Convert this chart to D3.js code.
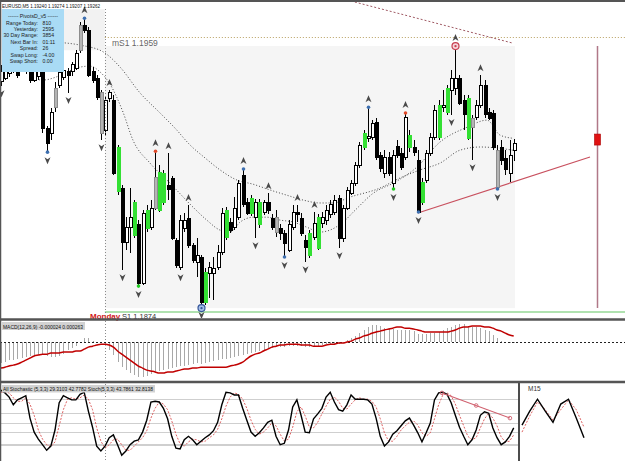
<!DOCTYPE html>
<html><head><meta charset="utf-8">
<script src="https://cdn.jsdelivr.net/npm/d3@7"></script>
<style>
html,body{margin:0;padding:0;background:#fff;}
svg{display:block;font-family:"Liberation Sans","DejaVu Sans",sans-serif;}
</style></head><body>
<svg id="c" width="625" height="461"></svg>
<script>
// ---------- DATA ----------
const symbolTitle = "EURUSD,M5  1.19240 1.19274 1.19207 1.19262";
const opens = [1.19451,1.19463,1.19476,1.19519,1.19513,1.19494,1.19513,1.19494,1.19457,1.19469,
1.19479,1.19308,1.19293,1.19373,1.19441,1.19466,1.19482,1.19482,1.19494,1.19549,
1.19627,1.19611,1.19482,1.19463,1.19417,1.19302,1.19401,1.19395,1.19250,1.19123,
1.18956,1.19002,1.18978,1.19009,1.18829,1.18999,1.19002,1.19061,1.19055,1.19169,
1.19132,1.19154,1.18962,1.18878,1.18999,1.19030,1.18947,1.18894,1.18910,1.18768,
1.18860,1.18860,1.18878,1.18925,1.18971,1.19018,1.19002,1.19033,1.19163,1.19080,
1.19046,1.19033,1.19080,1.19049,1.19080,1.19030,1.19033,1.18999,1.18984,1.18931,
1.19002,1.19049,1.19030,1.18962,1.18916,1.18971,1.18937,1.19015,1.19024,1.19040,
1.19049,1.19092,1.18968,1.19061,1.19107,1.19138,1.19194,1.19250,1.19277,1.19280,
1.19327,1.19225,1.19169,1.19219,1.19138,1.19253,1.19231,1.19219,1.19287,1.19250,
1.19209,1.19080,1.19148,1.19231,1.19280,1.19280,1.19373,1.19358,1.19426,1.19432,
1.19463,1.19395,1.19401,1.19311,1.19342,1.19379,1.19441,1.19358,1.19355,1.19240,
1.19247,1.19216,1.19169,1.19240];
const highs = [1.19504,1.19513,1.19519,1.19534,1.19525,1.19534,1.19525,1.19519,1.19504,1.19507,
1.19488,1.19315,1.19370,1.19451,1.19488,1.19500,1.19494,1.19513,1.19549,1.19636,
1.19651,1.19621,1.19497,1.19472,1.19426,1.19407,1.19426,1.19410,1.19256,1.19132,
1.19033,1.19123,1.19086,1.19024,1.19055,1.19071,1.19086,1.19240,1.19194,1.19179,
1.19231,1.19160,1.18968,1.19040,1.19046,1.19071,1.18953,1.18968,1.18916,1.18875,
1.18894,1.18910,1.18947,1.19061,1.19064,1.19030,1.19095,1.19148,1.19185,1.19092,
1.19101,1.19089,1.19089,1.19086,1.19107,1.19043,1.19055,1.19012,1.18993,1.19024,
1.19071,1.19071,1.19046,1.18978,1.18993,1.19049,1.19043,1.19049,1.19071,1.19086,
1.19101,1.19101,1.19071,1.19126,1.19148,1.19203,1.19265,1.19302,1.19376,1.19333,
1.19339,1.19234,1.19240,1.19234,1.19240,1.19271,1.19247,1.19358,1.19302,1.19271,
1.19240,1.19154,1.19240,1.19293,1.19379,1.19395,1.19426,1.19441,1.19488,1.19565,
1.19472,1.19410,1.19410,1.19349,1.19395,1.19472,1.19457,1.19370,1.19364,1.19256,
1.19271,1.19240,1.19271,1.19274];
const lows = [1.19438,1.19457,1.19466,1.19479,1.19463,1.19488,1.19476,1.19448,1.19451,1.19457,
1.19293,1.19231,1.19271,1.19358,1.19432,1.19457,1.19417,1.19469,1.19488,1.19540,
1.19602,1.19466,1.19448,1.19395,1.19271,1.19287,1.19389,1.19163,1.19101,1.18869,
1.18931,1.18922,1.18968,1.18817,1.18823,1.18987,1.18993,1.19055,1.19049,1.19071,
1.19086,1.18962,1.18875,1.18869,1.18987,1.18937,1.18891,1.18848,1.18752,1.18761,
1.18783,1.18777,1.18869,1.18916,1.18962,1.18984,1.18993,1.19024,1.19064,1.19040,
1.19036,1.18968,1.18999,1.19040,1.19043,1.18993,1.18971,1.18962,1.18907,1.18925,
1.18993,1.19018,1.18975,1.18894,1.18907,1.18962,1.18931,1.18999,1.19009,1.19030,
1.19040,1.18937,1.18956,1.19055,1.19101,1.19129,1.19185,1.19240,1.19265,1.19271,
1.19209,1.19172,1.19154,1.19160,1.19117,1.19216,1.19179,1.19209,1.19234,1.19222,
1.19046,1.19071,1.19138,1.19222,1.19271,1.19271,1.19358,1.19349,1.19349,1.19410,
1.19379,1.19302,1.19271,1.19209,1.19333,1.19370,1.19339,1.19333,1.19240,1.19117,
1.19194,1.19163,1.19141,1.19207];
const closes = [1.19482,1.19494,1.19500,1.19488,1.19472,1.19525,1.19482,1.19457,1.19488,1.19494,
1.19308,1.19262,1.19358,1.19432,1.19479,1.19488,1.19472,1.19504,1.19540,1.19627,
1.19611,1.19472,1.19457,1.19404,1.19293,1.19395,1.19420,1.19169,1.19111,1.18956,
1.19002,1.19033,1.19077,1.18829,1.19046,1.19055,1.19061,1.19157,1.19172,1.19080,
1.19120,1.18968,1.18885,1.19024,1.19024,1.18947,1.18900,1.18916,1.18768,1.18863,
1.18878,1.18875,1.18925,1.19046,1.19055,1.18993,1.19061,1.19138,1.19071,1.19046,
1.19092,1.19080,1.19009,1.19077,1.19055,1.19002,1.18987,1.18984,1.18953,1.19009,
1.19049,1.19040,1.18984,1.18940,1.18984,1.19015,1.19033,1.19033,1.19055,1.19071,
1.19086,1.18968,1.19061,1.19117,1.19138,1.19194,1.19256,1.19293,1.19284,1.19324,
1.19219,1.19185,1.19219,1.19169,1.19225,1.19225,1.19188,1.19342,1.19247,1.19234,
1.19049,1.19141,1.19231,1.19280,1.19364,1.19379,1.19379,1.19432,1.19463,1.19463,
1.19386,1.19349,1.19277,1.19339,1.19379,1.19441,1.19349,1.19339,1.19247,1.19126,
1.19209,1.19179,1.19225,1.19262];
// candle highlight: '.' normal, 'G' green, 'S' gray
const highlight = ("..........'...S.....S'....S...G.'..G..G.SGG'.........G'....G.....'G.G...S...'....G.G...'.......G..'........G.'.G...G.G..'..GS.....S'....").replace(/'/g,"").split("");

const fracUp = [20,26,37,40,45,58,64,71,75,88,97,109,115];
const fracUpMark = ["blue","","red","","","blue","","","","blue","red","ring",""];
const fracDn = [0,11,16,24,29,33,43,48,61,68,73,81,94,100,108,113,119];
const fracDnMark = ["","blue","","","","green","","target","","blue","","","green","blue","","","blue"];

// moving averages: [candle index, price]
const maFast = [[7,1.19463],[10.1,1.19457],[13.2,1.19466],[15.9,1.19482],[19,1.19497],[21.4,1.19500],[23.8,1.19482],[26.2,1.19444],[29.3,1.19358],[31.7,1.19271],[35.8,1.19200],[40.6,1.19138],[46.1,1.19064],[49.4,1.19024],[52.6,1.18993],[55,1.18987],[57.4,1.19018],[60.5,1.19033],[63.8,1.19033],[67,1.19024],[70.1,1.19018],[73.4,1.19002],[76.5,1.18987],[78.9,1.18993],[82.1,1.19018],[85,1.19055],[89.3,1.19107],[94.5,1.19141],[99.8,1.19188],[105.3,1.19265],[111.8,1.19311],[116.6,1.19333],[119.7,1.19287],[122.8,1.19277]];
const maSlow = [[13.2,1.19574],[19,1.19565],[24.7,1.19543],[28.6,1.19497],[33.4,1.19417],[38.2,1.19355],[41.8,1.19308],[45.4,1.19256],[49,1.19216],[52.6,1.19179],[56.6,1.19148],[60.5,1.19135],[64.6,1.19117],[68.6,1.19101],[72.5,1.19086],[76.5,1.19077],[79.7,1.19077],[83.7,1.19095],[90.9,1.19123],[95.7,1.19154],[100.5,1.19179],[105.3,1.19200],[110.1,1.19240],[114.9,1.19250],[119,1.19247],[122.8,1.19240]];
const maLong = [[84.9,1.19698],[122.8,1.19571]];

const mondayIdx = 24.95;
const levelMS1 = 1.1959, levelS1 = 1.1874;
const dayBox = {i0:24.95, i1:123.3, hi:1.19562, lo:1.18752};
const prevBox = {i0:-1, i1:24.95, hi:1.19676, lo:1.19549};
const trendLine = [[100,1.19046],[141.3,1.19219]];
const futureBar = {i:143, hi:1.19562, lo:1.18752, boxHi:1.19290, boxLo:1.19256};

const infoLabels = ["Range  Today:","Yesterday:","30 Day Range:","Next Bar In:","Spread:","Swap  Long:","Swap  Short:"];
const infoValues = ["810","2595","3854","01:11","26","-4.00","0.00"];

const macdHist = [-0.00092,-0.00088,-0.00079,-0.00079,-0.00074,-0.00070,-0.00066,-0.00061,-0.00057,-0.00057,
-0.00057,-0.00061,-0.00066,-0.00066,-0.00061,-0.00053,-0.00035,-0.00026,-0.00018,-0.00004,
0.00018,0.00018,0.00004,-0.00004,-0.00004,-0.00018,-0.00035,-0.00057,-0.00088,-0.00110,
-0.00123,-0.00136,-0.00145,-0.00153,-0.00153,-0.00149,-0.00140,-0.00131,-0.00127,-0.00123,
-0.00118,-0.00114,-0.00110,-0.00105,-0.00105,-0.00101,-0.00096,-0.00092,-0.00096,-0.00092,
-0.00088,-0.00083,-0.00079,-0.00074,-0.00074,-0.00070,-0.00066,-0.00061,-0.00057,-0.00053,
-0.00048,-0.00044,-0.00039,-0.00035,-0.00031,-0.00026,-0.00022,-0.00022,-0.00022,-0.00018,
-0.00018,-0.00018,-0.00018,-0.00022,-0.00022,-0.00022,-0.00018,-0.00013,-0.00009,-0.00009,
-0.00009,-0.00009,-0.00004,0.00009,0.00018,0.00026,0.00039,0.00053,0.00066,0.00074,
0.00074,0.00070,0.00061,0.00061,0.00057,0.00053,0.00053,0.00053,0.00053,0.00048,
0.00035,0.00035,0.00035,0.00039,0.00039,0.00044,0.00053,0.00061,0.00066,0.00074,
0.00079,0.00079,0.00070,0.00066,0.00066,0.00061,0.00053,0.00048,0.00031,0.00018,
0.00004,0.00000,-0.00002,-0.000024];
const macdSignal = [-0.00114,-0.00110,-0.00105,-0.00101,-0.00096,-0.00088,-0.00079,-0.00070,-0.00061,-0.00057,
-0.00053,-0.00053,-0.00048,-0.00048,-0.00048,-0.00044,-0.00044,-0.00044,-0.00039,-0.00039,
-0.00031,-0.00022,-0.00018,-0.00013,-0.00009,-0.00009,-0.00013,-0.00022,-0.00039,-0.00053,
-0.00066,-0.00079,-0.00092,-0.00105,-0.00114,-0.00123,-0.00127,-0.00131,-0.00136,-0.00136,
-0.00131,-0.00131,-0.00127,-0.00123,-0.00118,-0.00118,-0.00114,-0.00114,-0.00110,-0.00110,
-0.00110,-0.00110,-0.00110,-0.00110,-0.00110,-0.00105,-0.00101,-0.00096,-0.00088,-0.00074,
-0.00061,-0.00053,-0.00048,-0.00039,-0.00031,-0.00022,-0.00018,-0.00013,-0.00013,-0.00009,
-0.00009,-0.00009,-0.00013,-0.00013,-0.00013,-0.00018,-0.00018,-0.00018,-0.00013,-0.00009,
-0.00009,-0.00004,-0.00004,0.00000,0.00004,0.00013,0.00018,0.00026,0.00031,0.00039,
0.00044,0.00048,0.00053,0.00057,0.00061,0.00066,0.00066,0.00061,0.00061,0.00057,
0.00053,0.00048,0.00044,0.00044,0.00044,0.00044,0.00044,0.00044,0.00048,0.00053,
0.00061,0.00066,0.00066,0.00070,0.00070,0.00070,0.00066,0.00066,0.00061,0.00053,
0.00048,0.00039,0.00031,0.000263];
const macdLabel = "MACD(12,26,9) -0.000024 0.000263";

const stochMain = [97,93,87,76,83,86,89,57,37,27,19,11,17,40,79,89,86,83,83,91,
94,67,44,17,10,17,29,33,19,4,10,19,24,26,37,54,80,81,80,71,
56,31,14,13,26,31,26,19,24,29,33,39,51,76,94,93,90,90,71,54,
37,31,36,43,51,54,31,19,21,40,73,83,61,37,36,56,63,71,87,94,
80,69,67,76,90,84,84,84,83,77,57,31,17,23,34,39,46,53,57,47,
36,23,36,50,83,93,94,91,79,61,44,31,19,26,40,61,66,64,43,29,
19,23,31,43];
const stochSignal = [94,94,93,86,81,81,86,77,61,40,27,19,16,23,46,69,84,86,84,86,
90,84,69,43,24,14,19,26,27,19,11,11,17,23,29,39,57,71,80,77,
69,53,34,20,17,23,27,26,23,24,29,33,41,56,74,87,93,91,84,71,
54,41,34,37,43,50,46,34,24,27,44,66,73,60,44,43,51,63,74,84,
87,81,71,70,77,83,86,84,84,81,73,56,36,24,24,31,40,46,51,53,
47,36,31,36,56,76,90,93,89,77,61,46,31,26,29,43,56,64,57,46,
30,23,24,33];
const stochLevels = [85,65,50,37,20,18];
const stochTrend = [[105.8,93],[114,75],[122.1,57]];
const stochLabel = "All Stochastic (5,3,3) 29.3103 42.7782  Stoch(5,3,3) 43.7861 32.8138";
const m15Main = [47,67,84,67,51,77,84,57,29];
const m15Signal = [37,60,80,69,54,69,83,69,44];

// ---------- SCALES ----------
const svg = d3.select("#c");
const x = d3.scaleLinear().domain([0,149.69]).range([0.8,625]);
const y = d3.scaleLinear().domain([levelS1, levelMS1]).range([312,37]);
const my = d3.scaleLinear().domain([-0.00175,0.00088]).range([382,322]);
const sy = d3.scaleLinear().domain([0,100]).range([458,388]);
const mx = d3.scaleLinear().domain([0,8]).range([522,584]);
const px = i => Math.round(x(i)) + 0.5;

const defs = svg.append("defs");
defs.append("clipPath").attr("id","cMain").append("rect").attr("x",0).attr("y",2).attr("width",625).attr("height",316);
defs.append("clipPath").attr("id","cMacd").append("rect").attr("x",0).attr("y",321).attr("width",625).attr("height",60);
defs.append("clipPath").attr("id","cSto").append("rect").attr("x",0).attr("y",383).attr("width",518).attr("height",78);

svg.append("rect").attr("width",625).attr("height",461).attr("fill","#fff");

// ---------- MAIN PANEL ----------
const gm = svg.append("g").attr("clip-path","url(#cMain)");
gm.append("rect").attr("x",x(prevBox.i0)).attr("y",y(prevBox.hi)).attr("width",x(prevBox.i1)-x(prevBox.i0)).attr("height",y(prevBox.lo)-y(prevBox.hi)).attr("fill","#f2f2f2");
gm.append("rect").attr("x",x(dayBox.i0)).attr("y",y(dayBox.hi)).attr("width",x(dayBox.i1)-x(dayBox.i0)).attr("height",y(dayBox.lo)-y(dayBox.hi)).attr("fill","#f5f5f5");

gm.append("line").attr("x1",x(mondayIdx)).attr("x2",625).attr("y1",Math.round(y(levelMS1))+0.5).attr("y2",Math.round(y(levelMS1))+0.5)
  .attr("stroke","#b8a060").attr("stroke-dasharray","1,2");
gm.append("line").attr("x1",x(mondayIdx)).attr("x2",625).attr("y1",Math.round(y(levelS1))).attr("y2",Math.round(y(levelS1)))
  .attr("stroke","#96d896").attr("stroke-width",1.5);

const lineP = d3.line().x(d=>x(d[0])).y(d=>y(d[1])).curve(d3.curveMonotoneX);
gm.append("path").attr("d",lineP(maSlow)).attr("fill","none").attr("stroke","#333").attr("stroke-width",0.9).attr("stroke-dasharray","1,2");
gm.append("path").attr("d",lineP(maFast)).attr("fill","none").attr("stroke","#333").attr("stroke-width",0.9).attr("stroke-dasharray","1,2");
gm.append("path").attr("d",lineP(maLong)).attr("fill","none").attr("stroke","#a05a64").attr("stroke-width",1).attr("stroke-dasharray","2,2");

gm.append("path").attr("d",d3.line().x(d=>x(d[0])).y(d=>y(d[1]))(trendLine)).attr("stroke","#c8505e").attr("stroke-width",1.2).attr("fill","none");
gm.append("line").attr("x1",px(futureBar.i)).attr("x2",px(futureBar.i)).attr("y1",y(futureBar.hi)).attr("y2",y(futureBar.lo)).attr("stroke","#b07888").attr("stroke-width",1.5);
gm.append("rect").attr("x",px(futureBar.i)-3).attr("y",y(futureBar.boxHi)).attr("width",6).attr("height",y(futureBar.boxLo)-y(futureBar.boxHi)).attr("fill","#e01212").attr("stroke","#a00").attr("stroke-width",0.6);

// candles
const idx = d3.range(opens.length);
const cg = gm.append("g").attr("shape-rendering","crispEdges");
cg.selectAll("line.w").data(idx).join("line")
  .attr("x1",i=>px(i)).attr("x2",i=>px(i)).attr("y1",i=>y(highs[i])).attr("y2",i=>y(lows[i]))
  .attr("stroke","#000").attr("stroke-width",1);
cg.selectAll("rect.b").data(idx).join("rect")
  .attr("x",i=>px(i)-1.5).attr("width",3)
  .attr("y",i=>y(Math.max(opens[i],closes[i])))
  .attr("height",i=>Math.max(1,y(Math.min(opens[i],closes[i]))-y(Math.max(opens[i],closes[i]))))
  .attr("fill",i=>highlight[i]==="G"?"#33e033":highlight[i]==="S"?"#b4b4b4":(closes[i]>=opens[i]?"#fff":"#000"))
  .attr("stroke",i=>highlight[i]==="G"?"#33e033":highlight[i]==="S"?"#8c8c8c":"#000")
  .attr("stroke-width",1);

// fractals
const dotCol = {blue:"#3d6fb0",red:"#e04a2a",green:"#22cc22"};
const fg = gm.append("g");
fracUp.forEach((i,k)=>{
  const cx = px(i), hy = y(highs[i]);
  const cy = hy - 7;
  fg.append("path").attr("d",`M${cx-3},${cy+3}L${cx},${cy-4}L${cx+3},${cy+3}L${cx},${cy+1}Z`).attr("fill","#4a4a4a");
  const m = fracUpMark[k];
  if (m==="ring"){
    fg.append("circle").attr("cx",cx).attr("cy",hy+1).attr("r",3.5).attr("fill","#f6d6dc").attr("stroke","#c84050").attr("stroke-width",1.2);
    fg.append("circle").attr("cx",cx).attr("cy",hy+1).attr("r",1.2).attr("fill","#c84050");
  } else if (m) fg.append("circle").attr("cx",cx).attr("cy",hy+1).attr("r",1.8).attr("fill",dotCol[m]);
});
fracDn.forEach((i,k)=>{
  const cx = px(i), ly = y(lows[i]);
  const cy = ly + 7;
  fg.append("path").attr("d",`M${cx-3},${cy-3}L${cx},${cy+4}L${cx+3},${cy-3}L${cx},${cy-1}Z`).attr("fill","#4a4a4a");
  const m = fracDnMark[k];
  if (m==="target"){
    fg.append("circle").attr("cx",cx).attr("cy",ly).attr("r",3.5).attr("fill","#a8c0e8").attr("stroke","#34569a").attr("stroke-width",1.2);
    fg.append("circle").attr("cx",cx).attr("cy",ly).attr("r",1.2).attr("fill","#34569a");
  } else if (m) fg.append("circle").attr("cx",cx).attr("cy",ly-1).attr("r",1.8).attr("fill",dotCol[m]);
});

// labels in main panel
svg.append("text").attr("x",112).attr("y",Math.round(y(levelMS1))+9).attr("font-size",8.5).attr("fill","#666").text("mS1  1.1959");
svg.append("text").attr("x",90).attr("y",Math.round(y(levelS1))+7).attr("font-size",8).attr("font-weight","bold").attr("fill","#d01818").text("Monday");
svg.append("text").attr("x",122).attr("y",Math.round(y(levelS1))+7).attr("font-size",7.5).attr("fill","#333").text("S1  1.1874");

// monday separator (all panels)
svg.append("line").attr("x1",Math.round(x(mondayIdx))+0.5).attr("x2",Math.round(x(mondayIdx))+0.5).attr("y1",9).attr("y2",461)
  .attr("stroke","#8a8a8a").attr("stroke-dasharray","1,2");

// info box
svg.append("rect").attr("x",2).attr("y",9).attr("width",62).attr("height",63).attr("fill","#a9dbf5");
svg.append("text").attr("x",33).attr("y",18).attr("text-anchor","middle").attr("font-size",5.2).attr("fill","#222").text("------  PivotsD_v5  ------");
infoLabels.forEach((t,k)=>{
  svg.append("text").attr("x",38).attr("y",24.5+k*6.4).attr("text-anchor","end").attr("font-size",5.2).attr("fill","#222").text(t);
  svg.append("text").attr("x",42.5).attr("y",24.5+k*6.4).attr("font-size",5.2).attr("fill","#222").text(infoValues[k]);
});
svg.append("text").attr("x",2).attr("y",7.5).attr("font-size",5.2).attr("fill","#111").attr("textLength",98).attr("lengthAdjust","spacingAndGlyphs").text(symbolTitle);

// ---------- MACD PANEL ----------
const ga = svg.append("g").attr("clip-path","url(#cMacd)");
ga.append("g").attr("shape-rendering","crispEdges").selectAll("line").data(idx).join("line")
  .attr("x1",i=>px(i)).attr("x2",i=>px(i)).attr("y1",my(0)).attr("y2",i=>my(macdHist[i]))
  .attr("stroke","#a8a8a8").attr("stroke-width",1);
ga.append("line").attr("x1",0).attr("x2",625).attr("y1",Math.round(my(0))+0.5).attr("y2",Math.round(my(0))+0.5)
  .attr("stroke","#222").attr("stroke-dasharray","2,2");
ga.append("path").attr("d",d3.line().x(i=>x(i)).y(i=>my(macdSignal[i])).curve(d3.curveMonotoneX)(idx))
  .attr("fill","none").attr("stroke","#c00000").attr("stroke-width",1.5);
svg.append("rect").attr("x",2).attr("y",322).attr("width",83).attr("height",8).attr("fill","#d2d2d2");
svg.append("text").attr("x",3).attr("y",328.5).attr("font-size",5.2).attr("fill","#111").attr("textLength",80).attr("lengthAdjust","spacingAndGlyphs").text(macdLabel);

// ---------- STOCHASTIC PANEL ----------
const gs = svg.append("g").attr("clip-path","url(#cSto)");
stochLevels.forEach(v=>{
  gs.append("line").attr("x1",0).attr("x2",518).attr("y1",Math.round(sy(v))+0.5).attr("y2",Math.round(sy(v))+0.5).attr("stroke","#cfcfcf");
});
gs.append("path").attr("d",d3.line().x(i=>x(i)).y(i=>sy(stochSignal[i]))(idx))
  .attr("fill","none").attr("stroke","#d85050").attr("stroke-width",0.9).attr("stroke-dasharray","2,1.5");
gs.append("path").attr("d",d3.line().x(i=>x(i)).y(i=>sy(stochMain[i]))(idx))
  .attr("fill","none").attr("stroke","#000").attr("stroke-width",1.4);
gs.append("path").attr("d",d3.line().x(d=>x(d[0])).y(d=>sy(d[1]))([stochTrend[0],stochTrend[2]])).attr("stroke","#d0606e").attr("stroke-width",1.1);
stochTrend.forEach(d=>gs.append("circle").attr("cx",x(d[0])).attr("cy",sy(d[1])).attr("r",1.8).attr("fill","none").attr("stroke","#d0606e").attr("stroke-width",0.9));
svg.append("rect").attr("x",2).attr("y",385).attr("width",153).attr("height",7.5).attr("fill","#d2d2d2");
svg.append("text").attr("x",3).attr("y",391).attr("font-size",5.2).attr("fill","#111").attr("textLength",150).attr("lengthAdjust","spacingAndGlyphs").text(stochLabel);

// M15 sub-panel
const m15 = svg.append("g");
const m15idx = d3.range(m15Main.length);
m15.append("path").attr("d",d3.line().x(i=>mx(i)).y(i=>sy(m15Signal[i]))(m15idx)).attr("fill","none").attr("stroke","#d85050").attr("stroke-width",0.9).attr("stroke-dasharray","2,1.5");
m15.append("path").attr("d",d3.line().x(i=>mx(i)).y(i=>sy(m15Main[i]))(m15idx)).attr("fill","none").attr("stroke","#000").attr("stroke-width",1.4);
svg.append("text").attr("x",528).attr("y",391).attr("font-size",6.5).attr("fill","#333").text("M15");
svg.append("line").attr("x1",519).attr("x2",519).attr("y1",383).attr("y2",461).attr("stroke","#111").attr("stroke-width",1.5);

// ---------- FRAME / SEPARATORS ----------
svg.append("line").attr("x1",0).attr("x2",625).attr("y1",319.5).attr("y2",319.5).attr("stroke","#555").attr("stroke-width",2.5);
svg.append("line").attr("x1",0).attr("x2",625).attr("y1",382).attr("y2",382).attr("stroke","#555").attr("stroke-width",2.5);
svg.append("line").attr("x1",0).attr("x2",625).attr("y1",1).attr("y2",1).attr("stroke","#555").attr("stroke-width",2);
svg.append("line").attr("x1",0.5).attr("x2",0.5).attr("y1",0).attr("y2",461).attr("stroke","#555").attr("stroke-width",1.5);
</script>
</body></html>
